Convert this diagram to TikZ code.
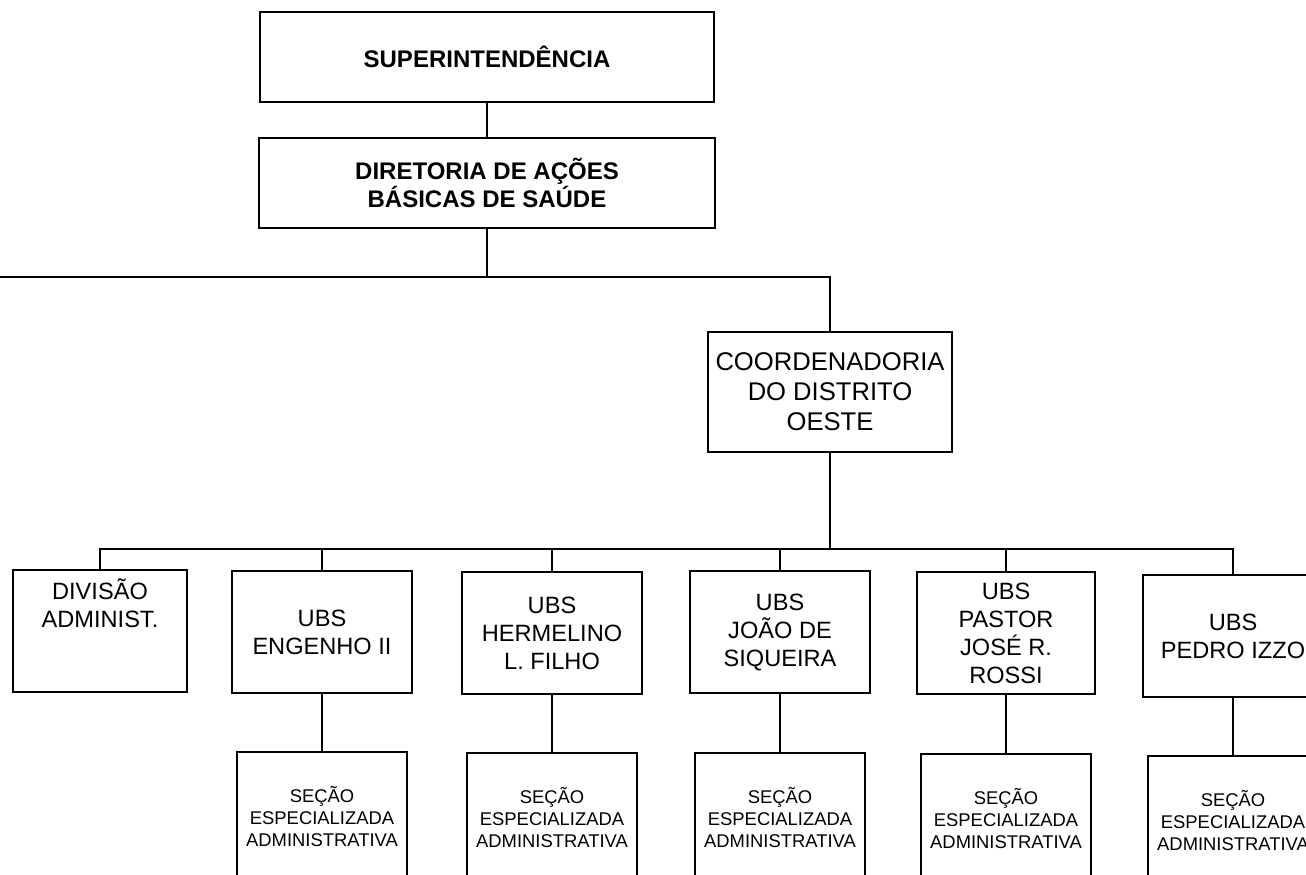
\documentclass[tikz,border=0pt]{standalone}
\usepackage{fontspec}
\setmainfont{Liberation Sans}
\usetikzlibrary{positioning}

\begin{document}
\begin{tikzpicture}[x=0.5pt,y=-0.5pt]
\tikzset{box/.style = {draw, line width=1.2pt, inner sep=0pt, outer sep=0pt, align=center},
  ubs/.style = {box, minimum width=90pt, minimum height=61pt, font=\fontsize{11.8}{14}\selectfont},
  secao/.style = {box, minimum width=85pt, minimum height=64pt, font=\fontsize{9.2}{11}\selectfont},
  edge/.style = {line width=1.3pt}}
\useasboundingbox (0,0) rectangle (1306,874);
\clip (0,0) rectangle (1306,874);

\node[box, minimum width=227pt, minimum height=45pt, font=\bfseries\fontsize{12}{14}\selectfont] (sup) at (487,57) {SUPERINTENDÊNCIA};
\node[box, minimum width=228pt, minimum height=45pt, font=\bfseries\fontsize{12}{14}\selectfont] (dir) at (487,183) {DIRETORIA DE AÇÕES\\BÁSICAS DE SAÚDE};
\node[box, minimum width=122pt, minimum height=60pt, font=\fontsize{12.8}{15}\selectfont] (coord) at (830,392) {COORDENADORIA\\DO DISTRITO\\OESTE};

\node[ubs, minimum width=87pt] (div) at (100,631) {};
\node[below=4pt of div.north, align=center, inner sep=0pt, font=\fontsize{11.8}{14}\selectfont] (divt) {DIVISÃO\\ADMINIST.};
\node[ubs] (eng) at (322,632) {UBS\\ENGENHO II};
\node[ubs] (her) at (552,633) {UBS\\HERMELINO\\L. FILHO};
\node[ubs] (joa) at (780,632) {UBS\\JOÃO DE\\SIQUEIRA};
\node[ubs, minimum width=89pt] (pas) at (1006,633) {UBS\\PASTOR\\JOSÉ R.\\ROSSI};
\node[ubs] (ped) at (1233,636) {UBS\\PEDRO IZZO};

\node[secao] (seng) at (322,816) {SEÇÃO\\ESPECIALIZADA\\ADMINISTRATIVA};
\node[secao] (sher) at (552,817) {SEÇÃO\\ESPECIALIZADA\\ADMINISTRATIVA};
\node[secao] (sjoa) at (780,817) {SEÇÃO\\ESPECIALIZADA\\ADMINISTRATIVA};
\node[secao] (spas) at (1006,818) {SEÇÃO\\ESPECIALIZADA\\ADMINISTRATIVA};
\node[secao] (sped) at (1233,820) {SEÇÃO\\ESPECIALIZADA\\ADMINISTRATIVA};

\coordinate (jl) at (0,277);
\coordinate (bus) at (830,549);

\draw[edge] (sup.south) -- (dir.north);
\draw[edge] (dir.south) -- (dir.south |- jl);
\draw[edge] (jl) -| (coord.north);
\draw[edge] (coord.south) -- (bus);
\draw[edge] (div.north) -- (div.north |- bus) -- (ped.north |- bus) -- (ped.north);
\foreach \n in {eng,her,joa,pas}
  \draw[edge] (\n.north) -- (\n.north |- bus);
\foreach \n in {eng,her,joa,pas,ped}
  \draw[edge] (\n.south) -- (s\n.north);

\end{tikzpicture}
\end{document}
